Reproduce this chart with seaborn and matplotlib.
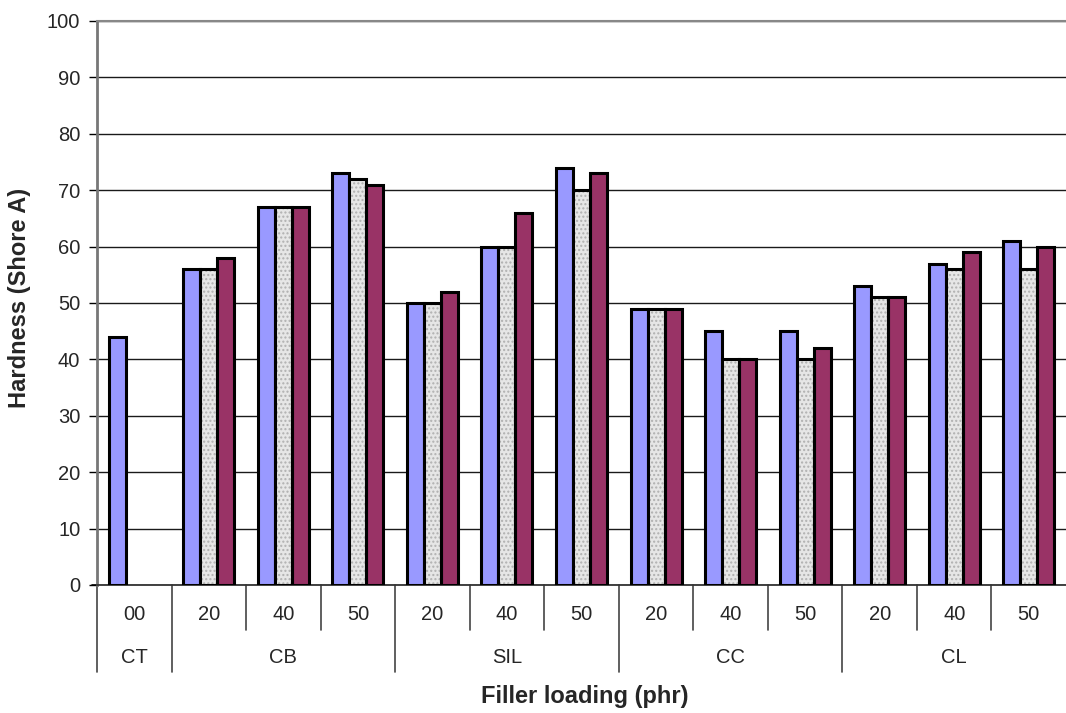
import numpy as np
import pandas as pd
import matplotlib
matplotlib.use("Agg")
import matplotlib.pyplot as plt
from matplotlib.patches import Rectangle
from matplotlib.colors import to_rgba
import seaborn as sns

# Filler groups and loadings (phr)
groups = ["CT", "CB", "CB", "CB", "SIL", "SIL", "SIL", "CC", "CC", "CC", "CL", "CL", "CL"]
loadings = ["00", "20", "40", "50", "20", "40", "50", "20", "40", "50", "20", "40", "50"]

# Hardness (Shore A) for the three series
series_a = [44, 56, 67, 73, 50, 60, 74, 49, 45, 45, 53, 57, 61]
series_b = [np.nan, 56, 67, 72, 50, 60, 70, 49, 40, 40, 51, 56, 56]
series_c = [np.nan, 58, 67, 71, 52, 66, 73, 49, 40, 42, 51, 59, 60]

series_names = ["A", "B", "C"]
colors = ["#9999FF", "#E6E6E6", "#993366"]

keys = [f"{g}-{l}" for g, l in zip(groups, loadings)]
df = pd.DataFrame({
    "key": keys * 3,
    "series": sum([[s] * len(keys) for s in series_names], []),
    "hardness": series_a + series_b + series_c,
})

sns.set_theme(style="white")
plt.rcParams["font.family"] = ["Liberation Sans", "DejaVu Sans"]

TICK_FS = 14.5
LABEL_FS = 17
EDGE_LW = 2.2

fig = plt.figure(figsize=(10.66, 7.13), dpi=100)
ax = fig.add_axes([97 / 1066, 1 - 585 / 713, 1 - 97 / 1066, (585 - 21) / 713])

sns.barplot(data=df, x="key", y="hardness", hue="series", order=keys,
            hue_order=series_names, palette=colors, width=0.685,
            edgecolor="black", linewidth=EDGE_LW, saturation=1, legend=False,
            ax=ax, zorder=3)

# dotted fill on the middle (light gray) series
n = len(keys)
gray = to_rgba(colors[1])
for p in list(ax.patches):
    if not np.allclose(p.get_facecolor(), gray, atol=0.01):
        continue
    h = p.get_height()
    if h == 0 or np.isnan(h):
        continue
    p.set_edgecolor("#B0B0B0")
    p.set_hatch("....")
    p.set_linewidth(0.0)
    ax.add_patch(Rectangle((p.get_x(), p.get_y()), p.get_width(), h,
                           fill=False, edgecolor="black", linewidth=EDGE_LW, zorder=4))

ax.set_ylim(0, 100)
ax.set_xlim(-0.5, n - 0.5)
ax.set_yticks(range(0, 101, 10))
ax.tick_params(axis="y", labelsize=TICK_FS, length=6, width=1, color="black",
               direction="out", left=True, pad=6)
ax.yaxis.grid(True, color="#1a1a1a", linewidth=1.0, zorder=0)
ax.set_axisbelow(True)

ax.spines["right"].set_visible(False)
ax.spines["top"].set_color("#888888")
ax.spines["top"].set_linewidth(1.5)
ax.spines["left"].set_color("#777777")
ax.spines["left"].set_linewidth(2.0)
ax.spines["bottom"].set_color("#333333")
ax.spines["bottom"].set_linewidth(1.3)

# two-level category axis
ax.set_xticks([])
ax.set_xlabel("")
tr = ax.get_xaxis_transform()
for i, l in enumerate(loadings):
    ax.text(i, -0.052, l, transform=tr, ha="center", va="center", fontsize=TICK_FS)
outer = {-0.5}
for i in range(1, n):
    if groups[i] != groups[i - 1]:
        outer.add(i - 0.5)
for b in [i - 0.5 for i in range(n)]:
    y1 = -0.154 if b in outer else -0.08
    ax.plot([b, b], [0, y1], transform=tr, color="#444444", lw=1.2, clip_on=False)
ax.plot([-0.5 - 0.07, -0.5], [0, 0], transform=tr, color="black", lw=1.2, clip_on=False)

start = 0
for i in range(1, n + 1):
    if i == n or groups[i] != groups[start]:
        ax.text((start + i - 1) / 2, -0.129, groups[start], transform=tr,
                ha="center", va="center", fontsize=TICK_FS)
        start = i

ax.set_ylabel("")
fig.text(20 / 1066, 1 - 298 / 713, "Hardness (Shore A)", rotation=90, ha="center",
         va="center", fontsize=LABEL_FS, fontweight="bold")
fig.text(585 / 1066, 1 - 697 / 713, "Filler loading (phr)", ha="center",
         va="center", fontsize=LABEL_FS, fontweight="bold")

fig.savefig("out.png", dpi=100)
